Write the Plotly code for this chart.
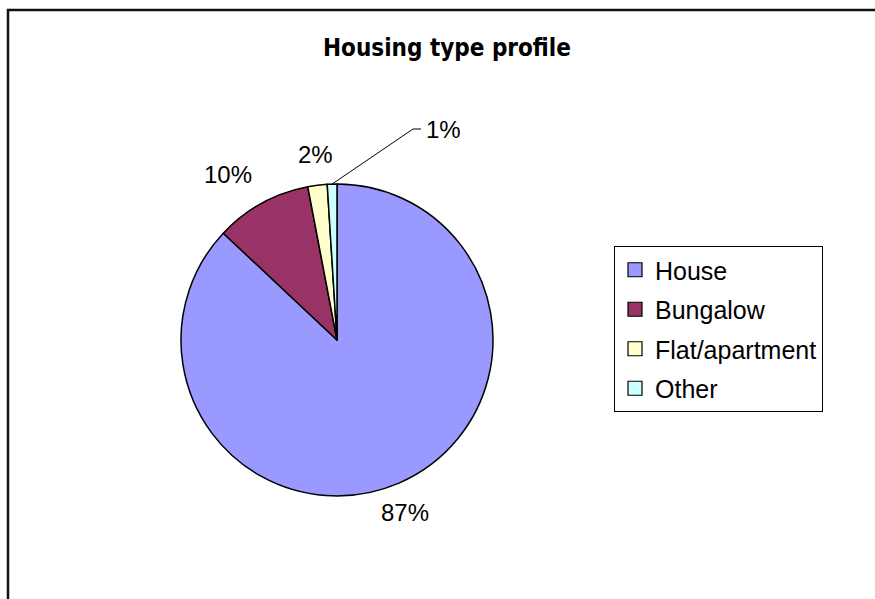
import math
import plotly.graph_objects as go

# Housing type shares (percent)
categories = ["House", "Bungalow", "Flat/apartment", "Other"]
shares = [87, 10, 2, 1]
slice_colors = ["#9999FF", "#993366", "#FFFFCC", "#CCFFFF"]

W, H = 875, 599
CX, CY, R = 337, 340, 156          # pie centre and radius in pixels
LABEL_K = 1.10                     # label anchor distance, in radii
LABEL_FONT = dict(family="Liberation Sans, Arial, sans-serif", size=24, color="#000000")


def px_to_paper(x, y):
    return x / W, 1 - y / H


fig = go.Figure()
fig.add_trace(go.Pie(
    labels=categories,
    values=shares,
    sort=False,
    direction="clockwise",
    rotation=0,
    marker=dict(colors=slice_colors, line=dict(color="#000000", width=1.5)),
    textinfo="none",
    hoverinfo="label+percent",
    domain=dict(x=[(CX - R) / W, (CX + R) / W], y=[1 - (CY + R) / H, 1 - (CY - R) / H]),
    showlegend=False,
))

# Legend entries: one square swatch per housing type
for cat, col in zip(categories, slice_colors):
    fig.add_trace(go.Scatter(
        x=[None], y=[None], mode="markers", name=cat, legendgroup=cat,
        marker=dict(symbol="square", size=14, color=col,
                    line=dict(color="#000000", width=1.2)),
        hoverinfo="skip",
    ))

# Percentage labels placed just outside each slice, at the slice's mid-angle
total = sum(shares)
annotations = []
shapes = []
cum = 0.0
for cat, v in zip(categories, shares):
    mid = (cum + v / 2) / total * 2 * math.pi
    cum += v
    dx, dy = math.sin(mid), -math.cos(mid)
    text = f"{round(v / total * 100)}%"
    if cat == "Other":
        # small slice: label pulled up and right with a leader line
        sx, sy = CX + R * dx, CY + R * dy
        ex, ey = CX + 76, CY - 211
        hx = ex + 8
        shapes.append(dict(
            type="path", xref="paper", yref="paper",
            path="M {} {} L {} {} L {} {}".format(
                *px_to_paper(sx, sy), *px_to_paper(ex, ey), *px_to_paper(hx, ey)),
            line=dict(color="#000000", width=1),
        ))
        lx, ly = px_to_paper(hx + 3, ey)
        annotations.append(dict(x=lx, y=ly, xref="paper", yref="paper", text=text,
                                showarrow=False, xanchor="left", yanchor="middle",
                                font=LABEL_FONT))
    else:
        if abs(dx) < 0.45:
            xanchor = "center"
        else:
            xanchor = "left" if dx > 0 else "right"
        yanchor = "top" if dy > 0 else "bottom"
        lx, ly = px_to_paper(CX + R * LABEL_K * dx, CY + R * LABEL_K * dy)
        annotations.append(dict(x=lx, y=ly, xref="paper", yref="paper", text=text,
                                showarrow=False, xanchor=xanchor, yanchor=yanchor,
                                font=LABEL_FONT))

# Chart title
tx, ty = px_to_paper(447, 48)
annotations.append(dict(
    x=tx, y=ty, xref="paper", yref="paper", showarrow=False,
    text="<b>Housing type profile</b>", xanchor="center", yanchor="middle",
    font=dict(family="Liberation Sans Narrow, DejaVu Sans Condensed, Liberation Sans, sans-serif",
              size=24, color="#000000"),
))

# Outer chart frame (open to the right and bottom of the page)
fx0, fy0 = px_to_paper(8, 10)
shapes.append(dict(type="rect", xref="paper", yref="paper",
                   x0=fx0, y0=-0.05, x1=1.05, y1=fy0,
                   line=dict(color="#111111", width=2.5)))

lgx, lgy = px_to_paper(614, 246)
fig.update_layout(
    width=W, height=H,
    margin=dict(l=0, r=0, t=0, b=0),
    paper_bgcolor="#FFFFFF",
    plot_bgcolor="#FFFFFF",
    xaxis=dict(visible=False),
    yaxis=dict(visible=False),
    annotations=annotations,
    shapes=shapes,
    legend=dict(
        x=lgx, y=lgy, xanchor="left", yanchor="top",
        bordercolor="#000000", borderwidth=1, bgcolor="#FFFFFF",
        font=dict(family="Liberation Sans, Arial, sans-serif", size=25, color="#000000"),
        itemwidth=30, tracegroupgap=4,
    ),
)

fig.write_html("out.html")
